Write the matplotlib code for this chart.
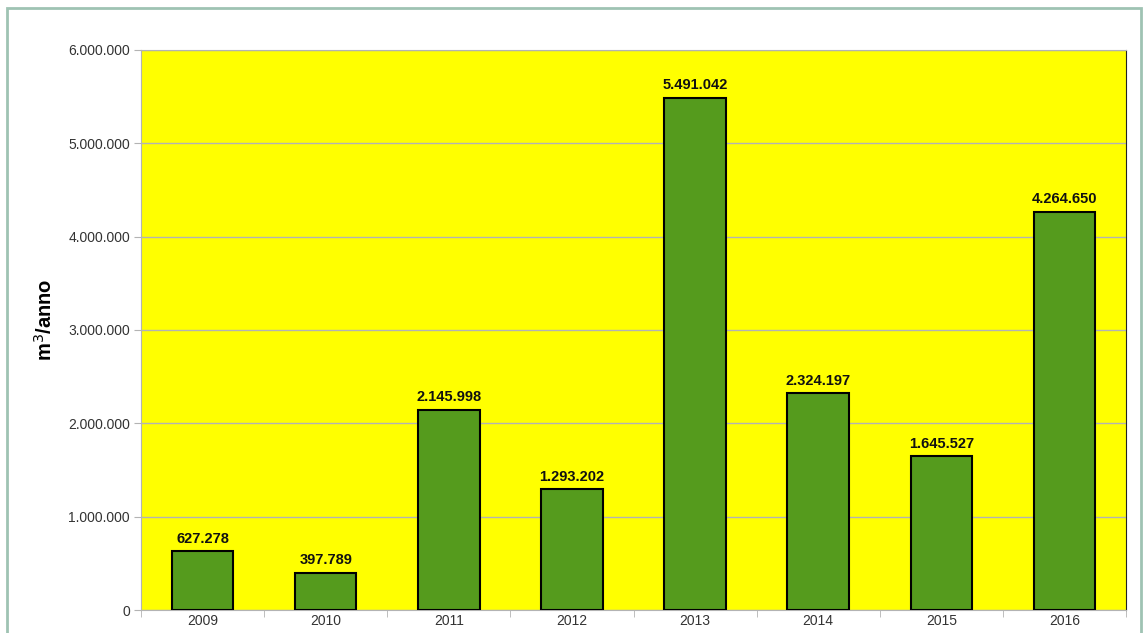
import numpy as np
import matplotlib.pyplot as plt
from matplotlib.patches import Rectangle
from matplotlib.ticker import FuncFormatter

years = ['2009', '2010', '2011', '2012', '2013', '2014', '2015', '2016']
volumes = [627278, 397789, 2145998, 1293202, 5491042, 2324197, 1645527, 4264650]

def dotted(v):
    return f"{int(v):,}".replace(',', '.')

fig = plt.figure(figsize=(11.45, 6.33), dpi=100)
ax = fig.add_axes([141 / 1145, 1 - 610 / 633, (1126 - 141) / 1145, (610 - 50) / 633])

x = np.arange(len(years))
ax.bar(x, volumes, width=0.5, color='#559b1d', edgecolor='black', linewidth=1.5, zorder=3)
for xi, v in zip(x, volumes):
    ax.annotate(dotted(v), (xi, v), xytext=(0, 4), textcoords='offset points',
                ha='center', va='bottom', fontsize=10.5, fontweight='bold',
                family=['Liberation Sans', 'DejaVu Sans'], color='#111111')

ax.set_facecolor('#ffff00')
ax.set_xlim(-0.5, len(years) - 0.5)
ax.set_ylim(0, 6000000)
ax.set_yticks(np.arange(0, 6000001, 1000000))
ax.yaxis.set_major_formatter(FuncFormatter(lambda v, p: dotted(v)))
ax.grid(axis='y', color='#b3b3b3', linewidth=1, zorder=0)

ax.set_xticks(x)
ax.set_xticklabels(years)
ax.set_xticks(np.arange(-0.5, len(years), 1), minor=True)
# labels kept just inside the bottom edge
ax.tick_params(axis='x', which='major', length=0, pad=3)
ax.tick_params(axis='x', which='minor', length=5, color='#b3b3b3')
ax.tick_params(axis='y', length=5, color='#b3b3b3', pad=3)
for lab in ax.get_xticklabels() + ax.get_yticklabels():
    lab.set_family(['Liberation Sans', 'DejaVu Sans'])
    lab.set_fontsize(10)
    lab.set_color('#333333')

for s in ['left', 'bottom', 'top']:
    ax.spines[s].set_color('#b3b3b3')
ax.spines['right'].set_color('#222222')

fig.text(45 / 1145, 1 - 320 / 633, 'm$^3$/anno', rotation=90, ha='center', va='center',
         fontsize=14.5, fontweight='bold', family=['Liberation Sans', 'DejaVu Sans'])

# outer frame of the chart, open at the bottom like the cropped original
fig.patches.append(Rectangle((7 / 1145, -0.1), (1141 - 7) / 1145, 1.1 - 8 / 633,
                             transform=fig.transFigure, fill=False,
                             edgecolor='#9fc3b3', linewidth=2))

fig.savefig('out.png', dpi=100)
